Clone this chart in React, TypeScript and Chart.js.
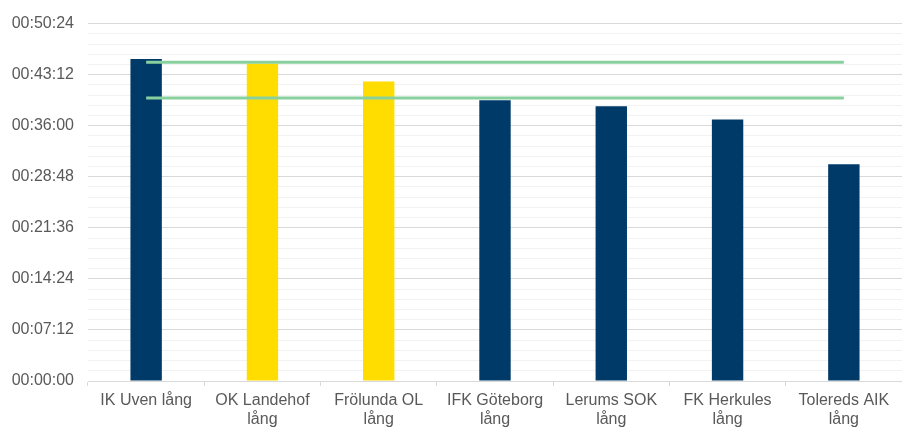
import React, { useEffect, useRef } from "react";
import { Chart, registerables } from "chart.js";

Chart.register(...registerables);

const categories: (string | string[])[] = [
  "IK Uven lång",
  ["OK Landehof", "lång"],
  ["Frölunda OL", "lång"],
  ["IFK Göteborg", "lång"],
  ["Lerums SOK", "lång"],
  ["FK Herkules", "lång"],
  ["Tolereds AIK", "lång"],
];

// seconds
const times = [2724, 2687, 2535, 2375, 2325, 2213, 1834];
const barColors = ["#003A69", "#FFDD00", "#FFDD00", "#003A69", "#003A69", "#003A69", "#003A69"];
const upperLine = [2698, 2698, 2698, 2698, 2698, 2698, 2698];
const lowerLine = [2395, 2395, 2395, 2395, 2395, 2395, 2395];

const yMax = 3024;
const minorStep = 86.4;

function fmt(v: number): string {
  const s = Math.round(v);
  const h = Math.floor(s / 3600);
  const m = Math.floor((s % 3600) / 60);
  const sec = s % 60;
  const p = (n: number) => String(n).padStart(2, "0");
  return `${p(h)}:${p(m)}:${p(sec)}`;
}

export default function App() {
  const ref = useRef<HTMLCanvasElement | null>(null);
  useEffect(() => {
    if (!ref.current) return;
    const font = { family: "'Liberation Sans', Arial, sans-serif", size: 16 };
    const chart = new Chart(ref.current, {
      type: "bar",
      data: {
        labels: categories,
        datasets: [
          {
            type: "line",
            data: upperLine,
            borderColor: "#88D19E",
            borderWidth: 3,
            pointRadius: 0,
            fill: false,
            order: 1,
          },
          {
            type: "line",
            data: lowerLine,
            borderColor: "#88D19E",
            borderWidth: 3,
            pointRadius: 0,
            fill: false,
            order: 1,
          },
          {
            type: "bar",
            data: times,
            backgroundColor: barColors,
            categoryPercentage: 1,
            barPercentage: 0.27,
            order: 2,
          },
        ] as any,
      },
      options: {
        animation: false,
        responsive: false,
        maintainAspectRatio: false,
        layout: { padding: { top: 22, left: 0, right: 0, bottom: 0 } },
        plugins: { legend: { display: false }, tooltip: { enabled: false } },
        scales: {
          x: {
            offset: true,
            grid: {
              offset: true,
              drawOnChartArea: false,
              drawTicks: true,
              tickLength: 5,
              color: "#D9D9D9",
            },
            border: { color: "#D9D9D9", width: 1 },
            ticks: {
              color: "#595959",
              font,
              maxRotation: 0,
              minRotation: 0,
              autoSkip: false,
              padding: 5,
            },
            afterFit: (s: any) => {
              s.height = 47;
            },
          },
          y: {
            min: 0,
            max: yMax,
            afterBuildTicks: (s: any) => {
              const t = [];
              for (let i = 0; i * minorStep <= yMax + 0.001; i++) t.push({ value: i * minorStep });
              s.ticks = t;
            },
            grid: {
              drawTicks: false,
              color: (ctx: any) => (ctx.index % 5 === 0 ? "#D9D9D9" : "#F2F2F2"),
              lineWidth: 1,
            },
            border: { display: false },
            ticks: {
              color: "#595959",
              font,
              padding: 14,
              autoSkip: false,
              callback: (v: any, i: number) => (i % 5 === 0 ? fmt(Number(v)) : ""),
            },
            afterFit: (s: any) => {
              s.width = 88;
            },
          },
        },
      } as any,
    });
    return () => chart.destroy();
  }, []);
  return (
    <div style={{ position: "fixed", left: 0, top: 0, width: 902, height: 428, background: "#fff" }}>
      <canvas ref={ref} width={902} height={428} style={{ width: 902, height: 428 }} />
    </div>
  );
}
